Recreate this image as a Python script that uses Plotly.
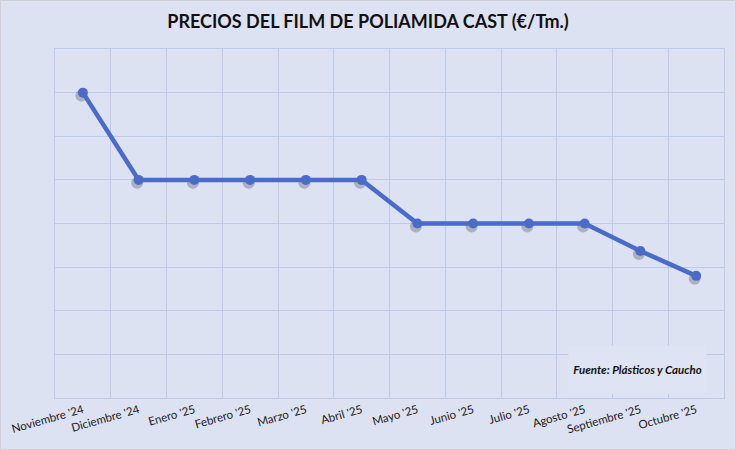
import plotly.graph_objects as go

months = ["Noviembre '24", "Diciembre '24", "Enero '25", "Febrero '25", "Marzo '25", "Abril '25",
          "Mayo '25", "Junio '25", "Julio '25", "Agosto '25", "Septiembre '25", "Octubre '25"]
prices = [3700, 3500, 3500, 3500, 3500, 3500, 3400, 3400, 3400, 3400, 3337, 3280]

title = "PRECIOS DEL FILM DE POLIAMIDA CAST (€/Tm.)"
source = "Fuente: Plásticos y Caucho"

bg = "#dde2f3"
grid = "#bccbeb"
line_c = "#4a6cc8"

W, H = 736, 450
ml, mr, mt, mb = 55, 12, 49, 52
pw, ph = W - ml - mr, H - mt - mb
ymin, ymax = 3000, 3800
xr = [-0.5, 11.5]
sx = -1.5 * 12 / pw          # shadow offset: 1.5 px left (category units)
sy = 3 * (ymax - ymin) / ph  # shadow offset: 3 px down (data units)

fig = go.Figure()
# invisible trace to carry the gridded base axes
fig.add_trace(go.Scatter(x=months, y=prices, mode="markers", marker=dict(opacity=0),
                         hoverinfo="skip", showlegend=False))
# soft shadow under markers (same data, shifted overlay axes)
fig.add_trace(go.Scatter(
    x=months, y=prices, mode="markers", xaxis="x2", yaxis="y2",
    marker=dict(color="rgba(60,60,80,0.30)", size=12, line=dict(width=0)),
    hoverinfo="skip", showlegend=False,
))
fig.add_trace(go.Scatter(
    x=months, y=prices, mode="lines+markers", xaxis="x3", yaxis="y3",
    line=dict(color=line_c, width=4.5),
    marker=dict(color=line_c, size=10),
    hoverinfo="skip", showlegend=False,
))

fig.update_layout(
    width=W, height=H,
    paper_bgcolor=bg, plot_bgcolor=bg,
    margin=dict(l=ml, r=mr, t=mt, b=mb),
    font=dict(family="Lato, 'Open Sans', sans-serif", color="#222222"),
    title=dict(text="<b>" + title + "</b>", x=0.5, xanchor="center", y=1 - 22 / H, yanchor="middle",
               font=dict(size=18, color="#111111", family="Lato, sans-serif")),
    xaxis=dict(type="category", range=xr, tickson="boundaries", automargin=False,
               showgrid=True, gridcolor=grid, gridwidth=1,
               showline=True, linecolor=grid, linewidth=1, mirror=True,
               ticks="", tickangle=-16, tickfont=dict(size=11.5, color="#1a1a1a"),
               zeroline=False, fixedrange=True),
    yaxis=dict(range=[ymin, ymax], dtick=100, showgrid=True, gridcolor=grid, gridwidth=1,
               automargin=False, showline=True, linecolor=grid, linewidth=1, mirror=True,
               showticklabels=False, ticks="", zeroline=False, fixedrange=True),
    xaxis2=dict(type="category", range=[xr[0] - sx, xr[1] - sx], anchor="y2",
                overlaying="x", visible=False, fixedrange=True),
    yaxis2=dict(range=[ymin + sy, ymax + sy], anchor="x2",
                overlaying="y", visible=False, fixedrange=True),
    xaxis3=dict(type="category", range=xr, anchor="y3",
                overlaying="x", visible=False, fixedrange=True),
    yaxis3=dict(range=[ymin, ymax], anchor="x3",
                overlaying="y", visible=False, fixedrange=True),
    annotations=[dict(
        text="<b><i>" + source + "</i></b>", xref="paper", yref="paper",
        x=(637.5 - ml) / pw, y=(398 - 369.5) / ph, xanchor="center", yanchor="middle",
        showarrow=False, bgcolor="#dfe4f4", width=135, height=45,
        font=dict(size=11.5, color="#111111", family="Lato, sans-serif"),
    )],
    shapes=[dict(type="rect", xref="paper", yref="paper",
                 x0=-ml / pw + 0.5 / pw, x1=1 + (mr - 0.5) / pw,
                 y0=-mb / ph + 0.5 / ph, y1=1 + (mt - 0.5) / ph,
                 line=dict(color="#cfcfd6", width=1), layer="below")],
)

fig.write_html("out.html", config={"displayModeBar": False},
               post_script="document.body.style.margin='0';document.body.style.background='" + bg + "';")
